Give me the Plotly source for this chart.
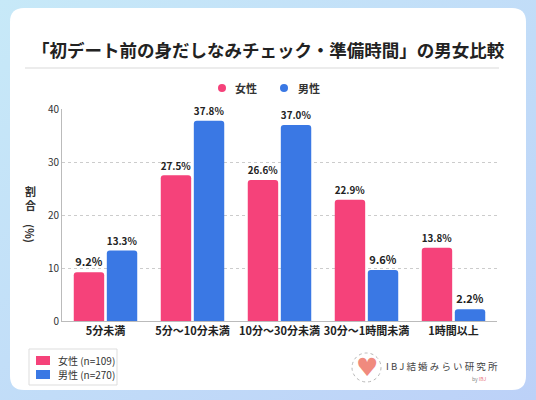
import base64
import plotly.graph_objects as go

# data
categories = ["5分未満", "5分～10分未満", "10分～30分未満", "30分～1時間未満", "1時間以上"]
female = [9.2, 27.5, 26.6, 22.9, 13.8]
male = [13.3, 37.8, 37.0, 9.6, 2.2]
female_name = "女性 (n=109)"
male_name = "男性 (n=270)"
title = "「初デート前の身だしなみチェック・準備時間」の男女比較"

PINK = "#f5427a"
BLUE = "#3a78e4"
FONT = "Noto Sans CJK JP"

# plot area in pixels (536x400 page)
L, R, T, B = 62, 497, 109, 321


def px(p):
    return (p - L) / (R - L)


def py(p):
    return (B - p) / (B - T)


def note(text, x, y, size=11, color="#333", xanchor="center", **kw):
    return dict(text=text, x=px(x), y=py(y), xref="paper", yref="paper",
                xanchor=xanchor, yanchor="middle", showarrow=False,
                font=dict(size=size, color=color, family=FONT), **kw)


def box(xa, xb, ya, yb, **kw):
    return dict(type="rect", xref="paper", yref="paper", x0=px(xa), x1=px(xb),
                y0=py(ya), y1=py(yb), **kw)


def dot(cx, cy, rr, color):
    return dict(type="circle", xref="paper", yref="paper", x0=px(cx - rr), x1=px(cx + rr),
                y0=py(cy + rr), y1=py(cy - rr), fillcolor=color, line_width=0)


fig = go.Figure()
fig.add_trace(go.Bar(x=categories, y=female, name=female_name, marker_color=PINK,
                     texttemplate="%{y:.1f}%", textposition="outside",
                     textfont=dict(size=11, color="#222", family=FONT, weight="bold"),
                     cliponaxis=False))
fig.add_trace(go.Bar(x=categories, y=male, name=male_name, marker_color=BLUE,
                     texttemplate="%{y:.1f}%", textposition="outside",
                     textfont=dict(size=11, color="#222", family=FONT, weight="bold"),
                     cliponaxis=False))
fig.update_traces(marker_cornerradius=3, marker_line_width=0)

# light blue gradient behind the card
svg = ('<svg xmlns="http://www.w3.org/2000/svg" width="536" height="400">'
       '<defs><linearGradient id="g" x1="0" y1="0" x2="1" y2="1">'
       '<stop offset="0" stop-color="#c7e9f8"/><stop offset="1" stop-color="#bcd1f8"/>'
       '</linearGradient></defs><rect width="536" height="400" fill="url(#g)"/></svg>')
bg_src = "data:image/svg+xml;base64," + base64.b64encode(svg.encode()).decode()

# white card with rounded corners
x0, x1, y0, y1, r = px(10), px(526), py(8), py(390), 14
rx = r / (R - L)
ry = r / (B - T)
card = (f"M {x0+rx},{y0} L {x1-rx},{y0} Q {x1},{y0} {x1},{y0-ry} "
        f"L {x1},{y1+ry} Q {x1},{y1} {x1-rx},{y1} L {x0+rx},{y1} "
        f"Q {x0},{y1} {x0},{y1+ry} L {x0},{y0-ry} Q {x0},{y0} {x0+rx},{y0} Z")

shapes = [
    dict(type="path", path=card, xref="paper", yref="paper",
         fillcolor="white", line_width=0, layer="below"),
    # title separator
    dict(type="line", xref="paper", yref="paper", x0=px(25), x1=px(499),
         y0=py(68), y1=py(68), line=dict(color="#d9d9d9", width=1)),
    # top legend dots
    dot(222, 88, 4, PINK),
    dot(284, 88, 4, BLUE),
    # logo dotted ring
    dict(type="circle", xref="paper", yref="paper", x0=px(352), x1=px(381),
         y0=py(353), y1=py(382), line=dict(color="#b8b8b8", width=1, dash="dot")),
    # bottom-left legend box and swatches
    box(29, 117, 349, 385, fillcolor="white", line=dict(color="#dddddd", width=1)),
    box(36, 50, 356, 365, fillcolor=PINK, line_width=0),
    box(36, 50, 370, 379, fillcolor=BLUE, line_width=0),
]

annotations = [
    note(f"<b>{title}</b>", 268, 50, size=17.5, color="#222"),
    note("<b>女性</b>", 233, 88, xanchor="left"),
    note("<b>男性</b>", 296, 88, xanchor="left"),
    note("<b>割<br>合</b>", 30, 198),
    note("<b>(%)</b>", 30, 233, textangle=90),
    note(female_name, 56, 360.5, size=10, xanchor="left"),
    note(male_name, 56, 374.5, size=10, xanchor="left"),
    dict(text="♥", x=px(366.5), y=py(367), xref="paper", yref="paper", showarrow=False,
         xanchor="center", yanchor="middle",
         font=dict(size=25, color="#f08a7e", family="DejaVu Sans")),
    note("I B J 結 婚 み ら い 研 究 所", 384, 366, size=9.5, color="#444", xanchor="left"),
    note("by <span style='color:#e8707a'>IBJ</span>", 488, 379, size=5, color="#888",
         xanchor="right"),
]

fig.update_layout(
    width=536, height=400,
    margin=dict(l=L, r=536 - R, t=T, b=400 - B),
    paper_bgcolor="#c3ddf8",
    plot_bgcolor="white",
    barmode="group", bargap=0.24, bargroupgap=0.08,
    font=dict(family=FONT, color="#333"),
    shapes=shapes, annotations=annotations,
    images=[dict(source=bg_src, xref="paper", yref="paper", x=px(0), y=py(0),
                 sizex=px(536) - px(0), sizey=py(0) - py(400), sizing="stretch",
                 xanchor="left", yanchor="top", layer="below")],
    showlegend=False,
    xaxis=dict(tickfont=dict(size=11, color="#222", family=FONT, weight="bold"),
               showline=True, linecolor="#bbbbbb", ticks="", fixedrange=True),
    yaxis=dict(range=[0, 40], dtick=10, tickfont=dict(size=10, color="#333"),
               showgrid=True, gridcolor="#cccccc", griddash="dot",
               showline=True, linecolor="#bbbbbb", zeroline=False, ticks=""),
)

# drop the browser's default page margin so the figure sits at the window's corner
fig.write_html("out.html", config={"displayModeBar": False},
               post_script="document.body.style.margin='0';")
